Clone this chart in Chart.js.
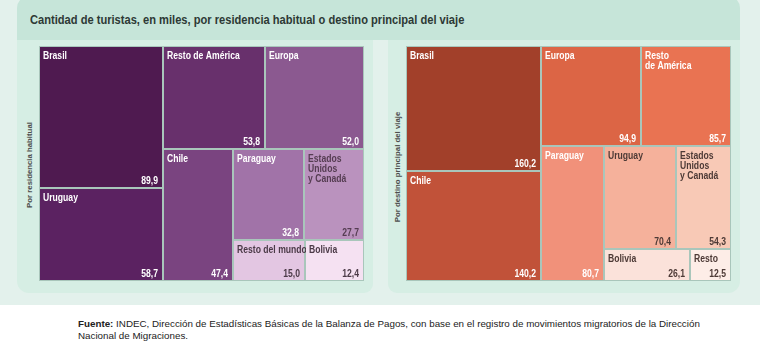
<!DOCTYPE html>
<html>
<head>
<meta charset="utf-8">
<script src="https://cdn.jsdelivr.net/npm/chart.js@4.4.0/dist/chart.umd.min.js"></script>
<style>
html,body{margin:0;padding:0;width:760px;height:348px;overflow:hidden;background:#ffffff;font-family:"Liberation Sans",Arial,sans-serif}
#bg{position:absolute;left:0;top:0;width:760px;height:305px;background:#e3f1ec}
#header{position:absolute;left:17px;top:-4px;width:723px;height:44px;background:#c6e5d9;border-radius:12px 12px 0 0}
#title{position:absolute;left:30px;top:12px;font:bold 13.5px "Liberation Sans",Arial,sans-serif;color:#2d3935;white-space:nowrap;transform-origin:0 0}
.panel{position:absolute;top:40px;height:253px;background:#d6eee4}
#pl{left:17px;width:356px;border-radius:0 0 9px 12px}
#pr{left:388px;width:352px;border-radius:0 0 12px 9px}
.ylab{position:absolute;width:160px;height:12px;text-align:center;font:bold 7.8px "Liberation Sans",Arial,sans-serif;color:#4e4e4e;transform:rotate(-90deg);white-space:nowrap;line-height:12px}
canvas{position:absolute}
#c1{left:39px;top:46px}
#c2{left:406px;top:46px}
#foot{position:absolute;left:78px;top:318px;font-size:9.8px;line-height:12px;color:#222;white-space:nowrap}
</style>
</head>
<body>
<div id="bg"></div>
<div id="header"></div>
<div id="title">Cantidad de turistas, en miles, por residencia habitual o destino principal del viaje</div>
<div class="panel" id="pl"></div>
<div class="panel" id="pr"></div>
<div class="ylab" style="left:-50px;top:159px">Por residencia habitual</div>
<div class="ylab" style="left:318px;top:161px">Por destino principal del viaje</div>
<canvas id="c1" width="325" height="235"></canvas>
<canvas id="c2" width="325" height="235"></canvas>
<div id="foot"><b>Fuente:</b> INDEC, Dirección de Estadísticas Básicas de la Balanza de Pagos, con base en el registro de movimientos migratorios de la Dirección<br>Nacional de Migraciones.</div>
<script>
// ---- Data: tourists (thousands) by habitual residence ----
const resCategories = ["Brasil", "Uruguay", "Resto de América", "Europa", "Chile", "Paraguay", "Estados\nUnidos\ny Canadá", "Resto del mundo", "Bolivia"];
const resValues = [89.9, 58.7, 53.8, 52.0, 47.4, 32.8, 27.7, 15.0, 12.4];
const resColors = ["#4f1a50", "#5b2261", "#68306c", "#8b5990", "#7a4480", "#a173a8", "#ba92be", "#e3c6e2", "#f5e1f2"];
const resText = ["#ffffff", "#ffffff", "#ffffff", "#ffffff", "#ffffff", "#ffffff", "#553d52", "#4b3a47", "#4b3a47"];

// ---- Data: tourists (thousands) by main trip destination ----
const destCategories = ["Brasil", "Chile", "Europa", "Resto\nde América", "Paraguay", "Uruguay", "Estados\nUnidos\ny Canadá", "Bolivia", "Resto"];
const destValues = [160.2, 140.2, 94.9, 85.7, 80.7, 70.4, 54.3, 26.1, 12.5];
const destColors = ["#a2402a", "#c15239", "#dc6545", "#e97352", "#f1917a", "#f5b19b", "#f8c9b6", "#fbe2da", "#fdede7"];
const destText = ["#ffffff", "#ffffff", "#ffffff", "#ffffff", "#ffffff", "#4d3a36", "#4d3a36", "#4d3a36", "#4d3a36"];

// grouping pattern of the treemap strips
const stripSizes = [2, 2, 1, 2, 1, 1];

// condensed title to match the narrow typeface
(function(){
  const t = document.getElementById('title');
  t.style.transform = 'scaleX(' + (434 / t.offsetWidth) + ')';
})();

function sum(a){ return a.reduce((s, v) => s + v, 0); }

function layoutTreemap(values, groups, kx, ky){
  let x0 = 0, y0 = 0, x1 = 100, y1 = 100;
  let rem = sum(values), i = 0;
  const rects = [];
  for (const g of groups){
    const vals = values.slice(i, i + g);
    if (!vals.length) break;
    const s = sum(vals);
    const dx = x1 - x0, dy = y1 - y0;
    if (dx * kx >= dy * ky){
      const w = dx * s / rem; let yy = y0;
      vals.forEach(v => { const h = dy * v / s; rects.push([x0, yy, x0 + w, yy + h]); yy += h; });
      x0 += w;
    } else {
      const h = dy * s / rem; let xx = x0;
      vals.forEach(v => { const w = dx * v / s; rects.push([xx, y0, xx + w, y0 + h]); xx += w; });
      y0 += h;
    }
    rem -= s; i += g;
  }
  return rects;
}

function fmt(v){ return v.toFixed(1).replace('.', ','); }

const NARROW = 0.82;
function narrowText(ctx, txt, x, y, align, baseline){
  ctx.save();
  ctx.translate(x, y);
  ctx.scale(NARROW, 1);
  ctx.textAlign = align;
  ctx.textBaseline = baseline;
  ctx.fillText(txt, 0, 0);
  ctx.restore();
}

const treemapPlugin = {
  id: 'treemapCells',
  afterDraw(chart, args, opts){
    const ctx = chart.ctx;
    const xs = chart.scales.x, ys = chart.scales.y;
    const area = chart.chartArea;
    const kx = (area.right - area.left) / 100, ky = (area.bottom - area.top) / 100;
    const rects = layoutTreemap(opts.values, stripSizes, kx, ky);
    ctx.save();
    ctx.fillStyle = '#a9c6bb';
    ctx.fillRect(area.left, area.top, area.right - area.left, area.bottom - area.top);
    ctx.font = 'bold 10.5px "Liberation Sans",Arial,sans-serif';
    rects.forEach((r, k) => {
      const px0 = Math.round(xs.getPixelForValue(r[0]));
      const px1 = Math.round(xs.getPixelForValue(r[2]));
      const py0 = Math.round(ys.getPixelForValue(r[1]));
      const py1 = Math.round(ys.getPixelForValue(r[3]));
      ctx.fillStyle = opts.colors[k];
      ctx.fillRect(px0 + 1, py0 + 1, px1 - px0 - 2, py1 - py0 - 2);
      ctx.fillStyle = opts.textColors[k];
      opts.labels[k].split('\n').forEach((ln, j) => {
        narrowText(ctx, ln, px0 + 4, py0 + 5 + j * 10, 'left', 'top');
      });
      narrowText(ctx, fmt(opts.values[k]), px1 - 5, py1 - 4, 'right', 'alphabetic');
    });
    ctx.restore();
  }
};

function makeChart(id, labels, values, colors, textColors){
  return new Chart(document.getElementById(id), {
    type: 'scatter',
    data: { datasets: [{ data: [] }] },
    options: {
      responsive: false,
      animation: false,
      events: [],
      layout: { padding: 0 },
      plugins: {
        legend: { display: false },
        tooltip: { enabled: false },
        treemapCells: { labels: labels, values: values, colors: colors, textColors: textColors }
      },
      scales: {
        x: { type: 'linear', display: false, min: 0, max: 100 },
        y: { type: 'linear', display: false, min: 0, max: 100, reverse: true }
      }
    },
    plugins: [treemapPlugin]
  });
}

makeChart('c1', resCategories, resValues, resColors, resText);
makeChart('c2', destCategories, destValues, destColors, destText);
</script>
</body>
</html>
